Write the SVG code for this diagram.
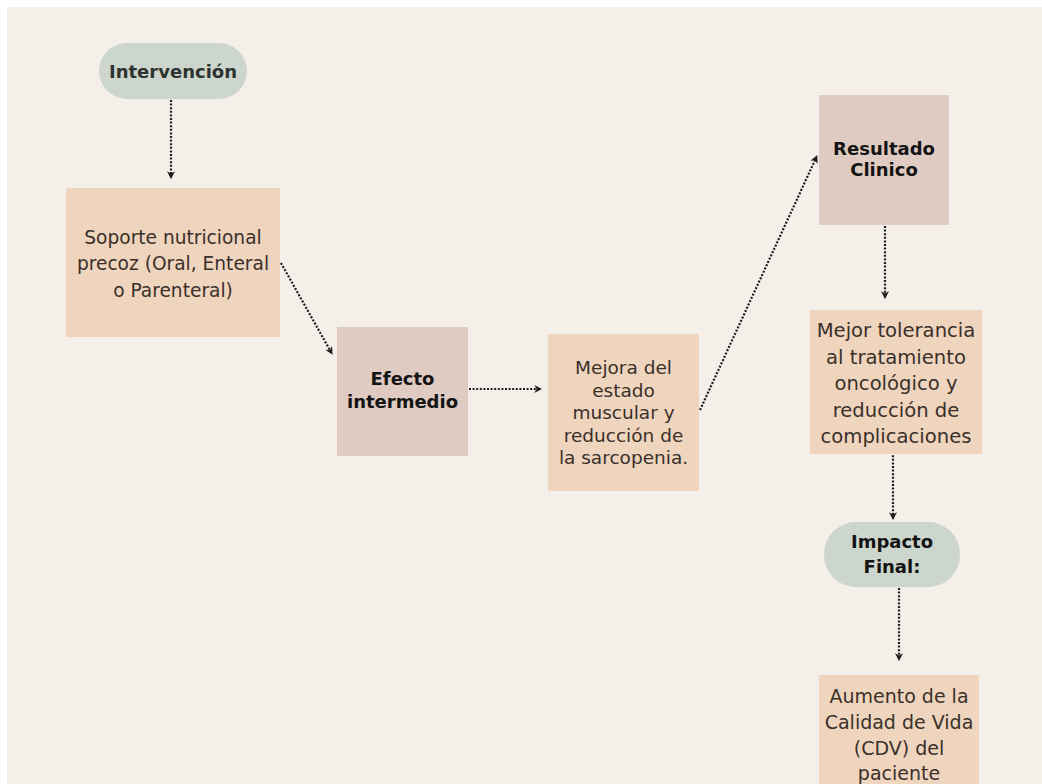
<svg xmlns="http://www.w3.org/2000/svg" width="1042" height="784" viewBox="0 0 1042 784">
  <style>
    .pill { fill: #cdd6cc; }
    .peach { fill: #efd4be; }
    .mauve { fill: #dfcbc2; }
    .lbl { font-family: "DejaVu Sans", "Liberation Sans", sans-serif; fill: #3a302a; text-anchor: middle; }
    .hd { font-family: "DejaVu Sans", "Liberation Sans", sans-serif; font-weight: bold; fill: #141414; text-anchor: middle; font-size: 18px; }
    .link { fill: none; stroke: #1e1e1e; stroke-width: 2.2; stroke-dasharray: 2 1.6; marker-end: url(#tip); }
  </style>
  <defs>
    <marker id="tip" viewBox="0 0 10 10" refX="6" refY="5" markerWidth="3.6" markerHeight="3.6" orient="auto" markerUnits="strokeWidth">
      <path d="M0,0 L10,5 L0,10 L3,5 Z" fill="#1e1e1e"/>
    </marker>
  </defs>

  <rect x="0" y="0" width="1042" height="784" fill="#ffffff"/>
  <rect x="7" y="7" width="1035" height="777" fill="#f4efe9"/>

  <g id="connectors">
    <path class="link" d="M171,100 L171,176"/>
    <path class="link" d="M281,263 L331,352"/>
    <path class="link" d="M469,389 L539,389"/>
    <path class="link" d="M700,410 L816,158"/>
    <path class="link" d="M885,226 L885,296"/>
    <path class="link" d="M893,448 L893,517"/>
    <path class="link" d="M899,588 L899,658"/>
  </g>

  <g id="intervencion">
    <rect class="pill" x="99" y="43" width="148" height="56" rx="28"/>
    <text class="hd" x="173" y="77.5" font-size="17.5" style="fill:#2e3330">Intervención</text>
  </g>

  <g id="soporte">
    <rect class="peach" x="66" y="188" width="214" height="149"/>
    <text class="lbl" font-size="18.6" x="173" y="244">Soporte nutricional</text>
    <text class="lbl" font-size="18.6" x="173" y="270">precoz (Oral, Enteral</text>
    <text class="lbl" font-size="18.6" x="173" y="297">o Parenteral)</text>
  </g>

  <g id="efecto">
    <rect class="mauve" x="337" y="327" width="131" height="129"/>
    <text class="hd" x="402.5" y="385">Efecto</text>
    <text class="hd" x="402.5" y="408">intermedio</text>
  </g>

  <g id="mejora">
    <rect class="peach" x="548" y="334" width="151" height="157"/>
    <text class="lbl" font-size="18.5" x="623.5" y="374">Mejora del</text>
    <text class="lbl" font-size="18.5" x="623.5" y="396.5">estado</text>
    <text class="lbl" font-size="18.5" x="623.5" y="419">muscular y</text>
    <text class="lbl" font-size="18.5" x="623.5" y="441.5">reducción de</text>
    <text class="lbl" font-size="18.5" x="623.5" y="464">la sarcopenia.</text>
  </g>

  <g id="resultado">
    <rect class="mauve" x="819" y="95" width="130" height="130"/>
    <text class="hd" x="884" y="155">Resultado</text>
    <text class="hd" x="884" y="176">Clinico</text>
  </g>

  <g id="tolerancia">
    <rect class="peach" x="810" y="310" width="172" height="144"/>
    <text class="lbl" font-size="19.6" x="896" y="337">Mejor tolerancia</text>
    <text class="lbl" font-size="19.6" x="896" y="364">al tratamiento</text>
    <text class="lbl" font-size="19.6" x="896" y="390">oncológico y</text>
    <text class="lbl" font-size="19.6" x="896" y="417">reducción de</text>
    <text class="lbl" font-size="19.6" x="896" y="443">complicaciones</text>
  </g>

  <g id="impacto">
    <rect class="pill" x="824" y="522" width="136" height="65" rx="32"/>
    <text class="hd" x="892" y="548">Impacto</text>
    <text class="hd" x="892" y="573">Final:</text>
  </g>

  <g id="aumento">
    <rect class="peach" x="819" y="675" width="160" height="115"/>
    <text class="lbl" font-size="19" x="899" y="703">Aumento de la</text>
    <text class="lbl" font-size="19" x="899" y="729">Calidad de Vida</text>
    <text class="lbl" font-size="19" x="899" y="755">(CDV) del</text>
    <text class="lbl" font-size="19" x="899" y="780">paciente</text>
  </g>
</svg>
